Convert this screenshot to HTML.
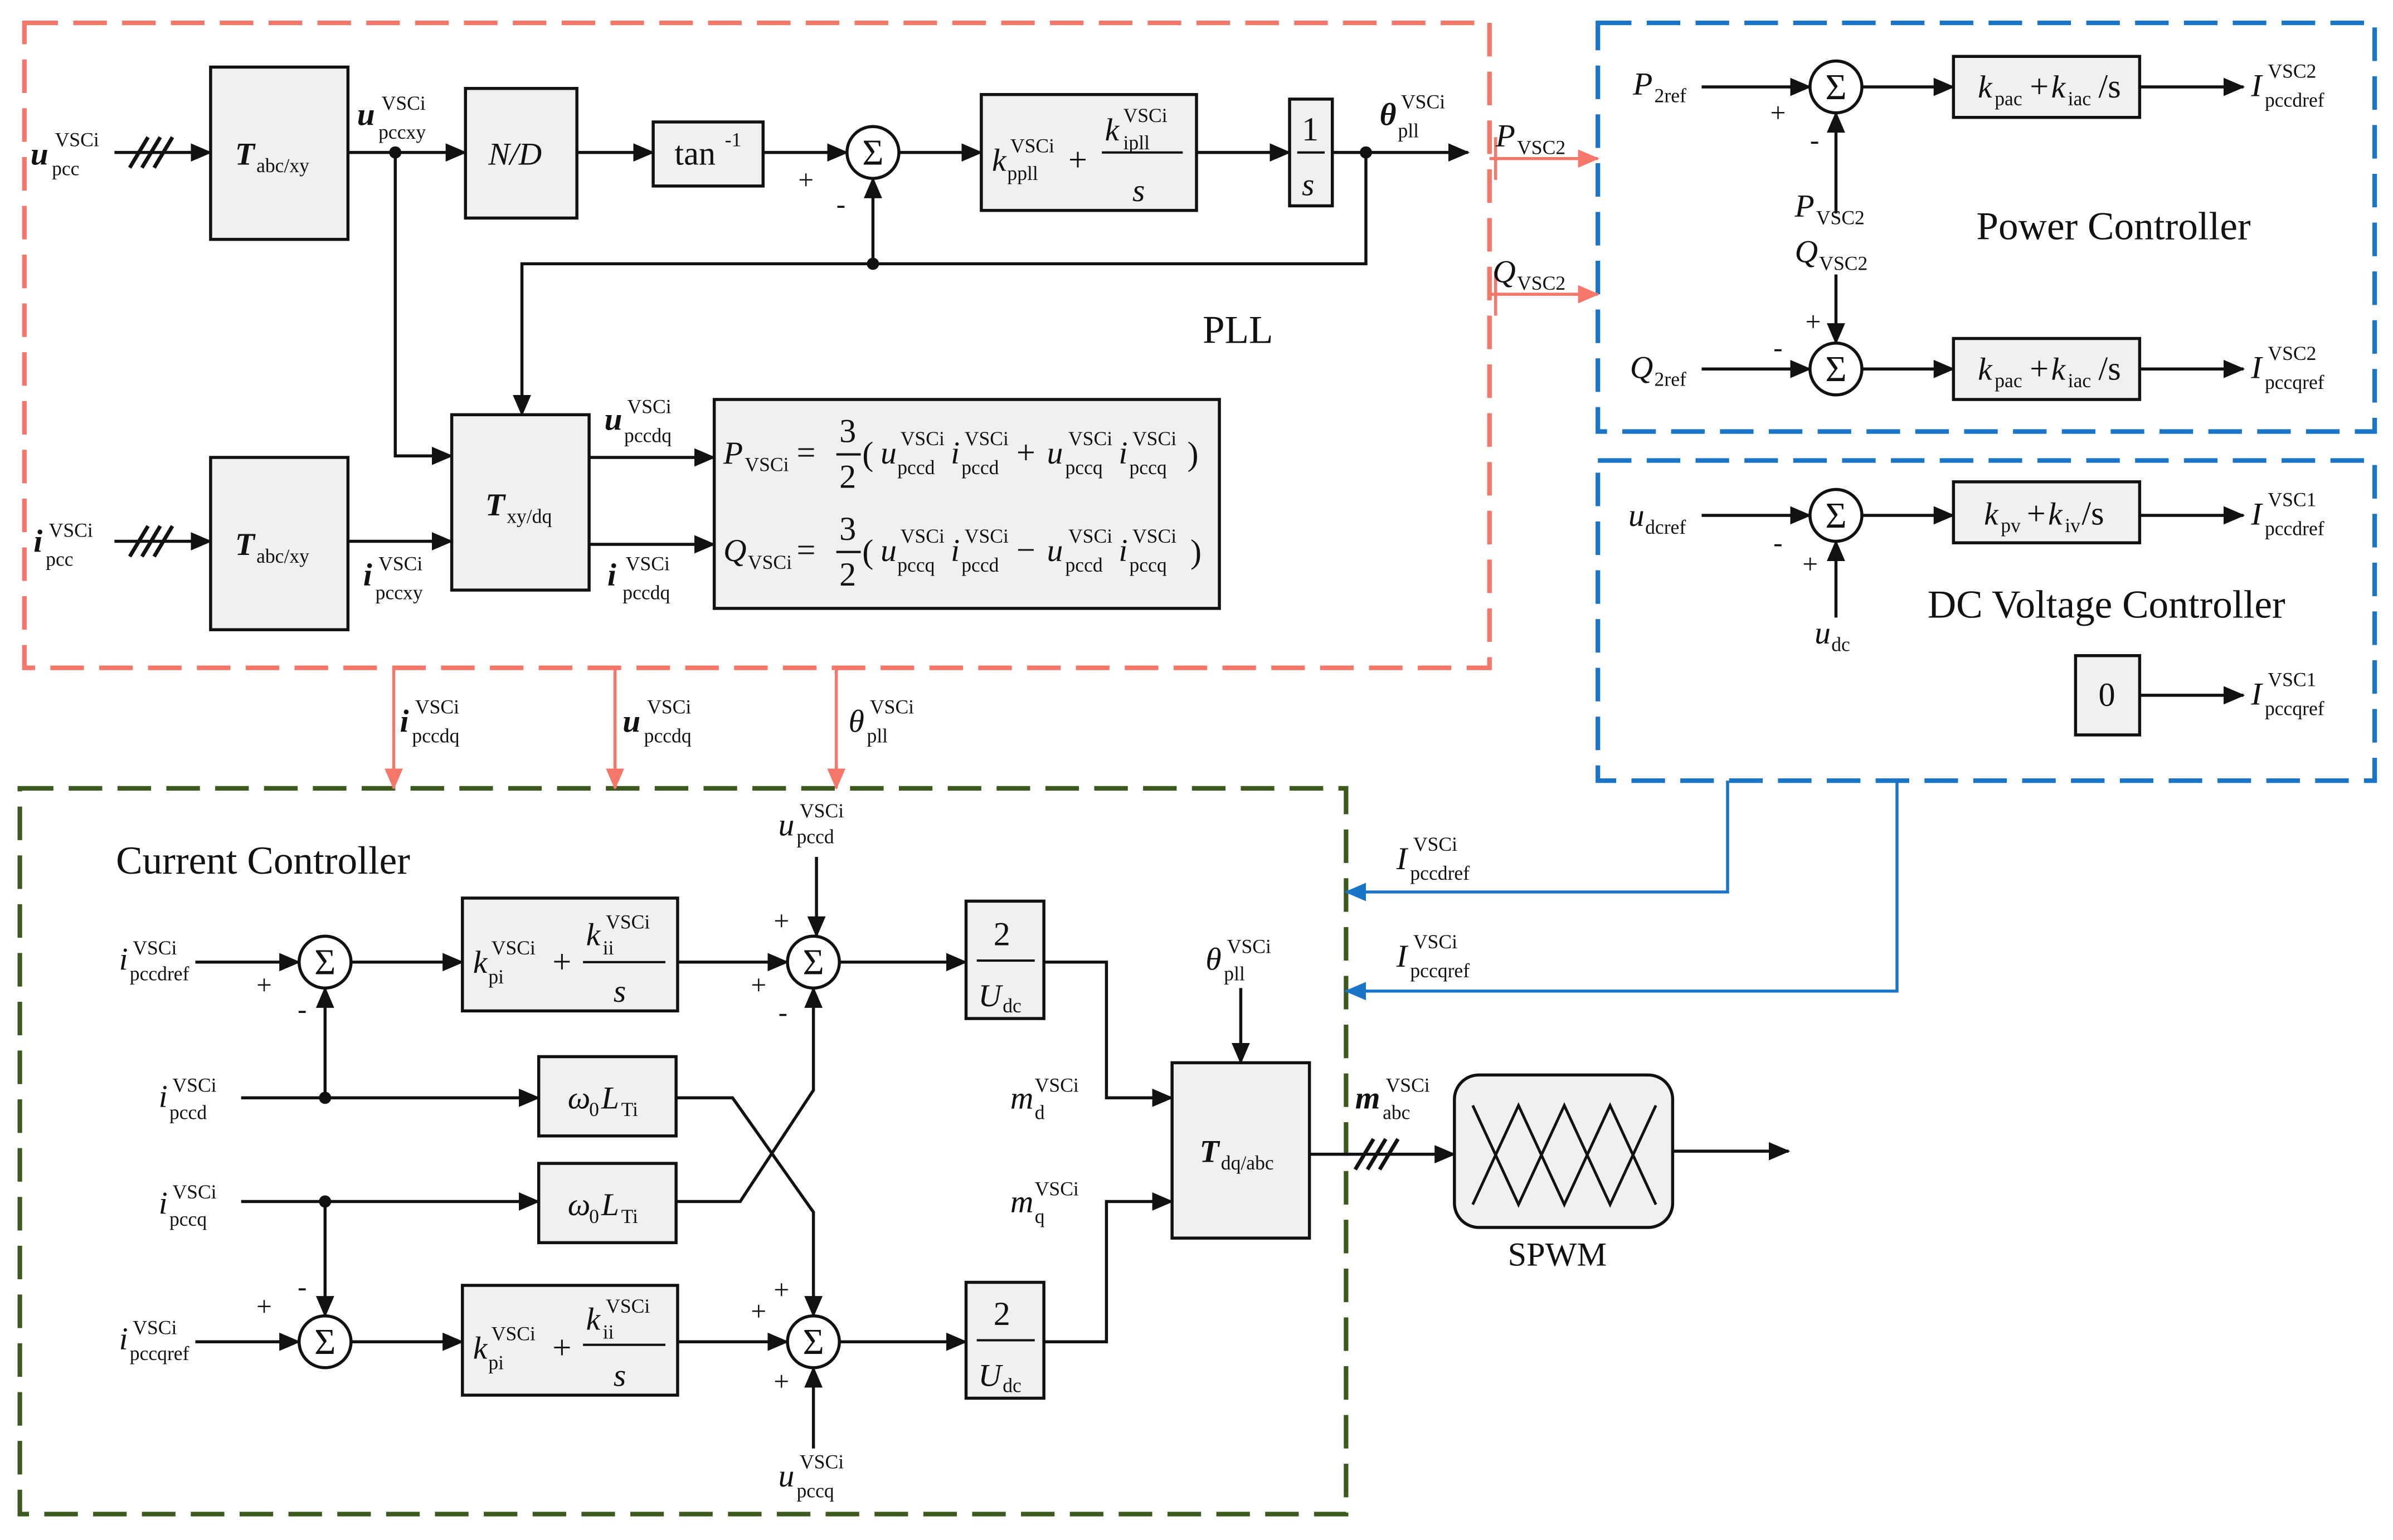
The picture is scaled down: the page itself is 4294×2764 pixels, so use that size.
<!DOCTYPE html>
<html><head><meta charset="utf-8"><style>
html,body{margin:0;padding:0;background:#fff}
svg{display:block}
text{font-family:"Liberation Serif",serif;fill:#111}
.i{font-style:italic;font-size:21px}
.b{font-weight:bold;font-style:italic;font-size:21px}
.s{font-size:13px}
.n{font-size:22px}
.t{font-size:26px}
</style></head><body>
<svg width="4294" height="2764" viewBox="0 0 1568 1010" preserveAspectRatio="none" xmlns="http://www.w3.org/2000/svg">
<defs>
<marker id="a" markerUnits="userSpaceOnUse" markerWidth="14" markerHeight="12" refX="13" refY="6" orient="auto"><path d="M0,0 L14,6 L0,12 z" fill="#111"/></marker>
<marker id="r" markerUnits="userSpaceOnUse" markerWidth="14" markerHeight="12" refX="13" refY="6" orient="auto"><path d="M0,0 L14,6 L0,12 z" fill="#f4776a"/></marker>
<marker id="u" markerUnits="userSpaceOnUse" markerWidth="14" markerHeight="12" refX="13" refY="6" orient="auto"><path d="M0,0 L14,6 L0,12 z" fill="#1a74c8"/></marker>
</defs>
<rect width="1568" height="1010" fill="#fff"/>
<!-- dashed boxes -->
<rect x="16" y="15" width="960" height="423" fill="none" stroke="#f4776a" stroke-width="3" stroke-dasharray="22,10"/>
<rect x="1047" y="15" width="509" height="268" fill="none" stroke="#1a74c8" stroke-width="3" stroke-dasharray="22,10"/>
<rect x="1047" y="302" width="509" height="210" fill="none" stroke="#1a74c8" stroke-width="3" stroke-dasharray="22,10"/>
<rect x="13" y="517" width="869" height="476" fill="none" stroke="#3d5a1e" stroke-width="3" stroke-dasharray="22,10"/>

<g stroke="#111" stroke-width="2" fill="#f0f0f0">
<rect x="138" y="44" width="90" height="113"/>
<rect x="305" y="58" width="73" height="85"/>
<rect x="428" y="80" width="72" height="42"/>
<rect x="643" y="62" width="141" height="76"/>
<rect x="845" y="65" width="28" height="70"/>
<rect x="138" y="300" width="90" height="113"/>
<rect x="296" y="272" width="90" height="115"/>
<rect x="468" y="262" width="331" height="137"/>
<rect x="1280" y="37" width="122" height="40"/>
<rect x="1280" y="222" width="122" height="40"/>
<rect x="1280" y="316" width="122" height="40"/>
<rect x="1360" y="430" width="42" height="52"/>
<rect x="303" y="589" width="141" height="74"/>
<rect x="303" y="843" width="141" height="72"/>
<rect x="353" y="693" width="90" height="52"/>
<rect x="353" y="763" width="90" height="52"/>
<rect x="633" y="591" width="51" height="77"/>
<rect x="633" y="841" width="51" height="76"/>
<rect x="768" y="697" width="90" height="115"/>
<rect x="953" y="705" width="143" height="100" rx="16"/>
</g>
<g stroke="#111" stroke-width="2" fill="#fff">
<circle cx="572" cy="100" r="17"/>
<circle cx="1203" cy="57" r="17"/>
<circle cx="1203" cy="242" r="17"/>
<circle cx="1203" cy="338" r="17"/>
<circle cx="213" cy="631" r="17"/>
<circle cx="533" cy="631" r="17"/>
<circle cx="213" cy="880" r="17"/>
<circle cx="533" cy="880" r="17"/>
</g>
<!-- fraction lines -->
<g stroke="#111" stroke-width="1.5">
<line x1="850" y1="100" x2="868" y2="100"/>
<line x1="722" y1="100" x2="775" y2="100"/>
<line x1="382" y1="631" x2="436" y2="631"/>
<line x1="382" y1="882" x2="436" y2="882"/>
<line x1="640" y1="630" x2="678" y2="630"/>
<line x1="640" y1="879" x2="678" y2="879"/>
<line x1="548" y1="298" x2="564" y2="298"/>
<line x1="548" y1="362" x2="564" y2="362"/>
</g>
<!-- SPWM triangles -->
<path d="M965,790 L995,725 L1025,790 L1055,725 L1085,790 M965,725 L995,790 L1025,725 L1055,790 L1085,725" stroke="#111" stroke-width="1.8" fill="none"/>
<!-- black connectors -->
<g stroke="#111" stroke-width="2" fill="none" marker-end="url(#a)">
<line x1="75" y1="100" x2="138" y2="100"/>
<line x1="228" y1="100" x2="305" y2="100"/>
<line x1="378" y1="100" x2="428" y2="100"/>
<line x1="500" y1="100" x2="555" y2="100"/>
<line x1="589" y1="100" x2="643" y2="100"/>
<line x1="784" y1="100" x2="845" y2="100"/>
<line x1="873" y1="100" x2="962" y2="100"/>
<polyline points="895,100 895,173 342,173 342,272"/>
<line x1="572" y1="173" x2="572" y2="117"/>
<polyline points="259,100 259,299 296,299"/>
<line x1="75" y1="355" x2="138" y2="355"/>
<line x1="228" y1="355" x2="296" y2="355"/>
<line x1="386" y1="300" x2="468" y2="300"/>
<line x1="386" y1="357" x2="468" y2="357"/>
<line x1="1115" y1="57" x2="1186" y2="57"/>
<line x1="1220" y1="57" x2="1280" y2="57"/>
<line x1="1402" y1="57" x2="1470" y2="57"/>
<line x1="1203" y1="140" x2="1203" y2="74"/>
<line x1="1203" y1="180" x2="1203" y2="225"/>
<line x1="1115" y1="242" x2="1186" y2="242"/>
<line x1="1220" y1="242" x2="1280" y2="242"/>
<line x1="1402" y1="242" x2="1470" y2="242"/>
<line x1="1115" y1="338" x2="1186" y2="338"/>
<line x1="1220" y1="338" x2="1280" y2="338"/>
<line x1="1402" y1="338" x2="1470" y2="338"/>
<line x1="1203" y1="405" x2="1203" y2="355"/>
<line x1="1402" y1="456" x2="1470" y2="456"/>
<line x1="128" y1="631" x2="196" y2="631"/>
<line x1="230" y1="631" x2="303" y2="631"/>
<line x1="444" y1="631" x2="516" y2="631"/>
<line x1="550" y1="631" x2="633" y2="631"/>
<line x1="535" y1="562" x2="535" y2="614"/>
<line x1="158" y1="720" x2="353" y2="720"/>
<line x1="213" y1="720" x2="213" y2="648"/>
<polyline points="443,720 480,720 533,795 533,863"/>
<line x1="158" y1="788" x2="353" y2="788"/>
<line x1="213" y1="788" x2="213" y2="863"/>
<polyline points="443,788 485,788 533,715 533,648"/>
<line x1="128" y1="880" x2="196" y2="880"/>
<line x1="230" y1="880" x2="303" y2="880"/>
<line x1="444" y1="880" x2="516" y2="880"/>
<line x1="550" y1="880" x2="633" y2="880"/>
<line x1="533" y1="950" x2="533" y2="897"/>
<polyline points="684,631 725,631 725,720 768,720"/>
<polyline points="684,880 725,880 725,788 768,788"/>
<line x1="813" y1="648" x2="813" y2="697"/>
<line x1="858" y1="757" x2="953" y2="757"/>
<line x1="1096" y1="755" x2="1172" y2="755"/>
</g>
<!-- triple slashes -->
<g stroke="#111" stroke-width="2.5">
<line x1="85" y1="110" x2="97" y2="90"/><line x1="93" y1="110" x2="105" y2="90"/><line x1="101" y1="110" x2="113" y2="90"/>
<line x1="85" y1="365" x2="97" y2="345"/><line x1="93" y1="365" x2="105" y2="345"/><line x1="101" y1="365" x2="113" y2="345"/>
<line x1="888" y1="767" x2="900" y2="747"/><line x1="896" y1="767" x2="908" y2="747"/><line x1="904" y1="767" x2="916" y2="747"/>
</g>
<g fill="#111">
<circle cx="259" cy="100" r="4"/><circle cx="895" cy="100" r="4"/><circle cx="572" cy="173" r="4"/>
<circle cx="213" cy="720" r="4"/><circle cx="213" cy="788" r="4"/>
</g>
<!-- red arrows -->
<g stroke="#f4776a" stroke-width="2" marker-end="url(#r)">
<line x1="258" y1="438" x2="258" y2="517"/>
<line x1="403" y1="438" x2="403" y2="517"/>
<line x1="548" y1="438" x2="548" y2="517"/>
<line x1="976" y1="104" x2="1047" y2="104"/>
<line x1="976" y1="193" x2="1047" y2="193"/>
</g>
<line x1="980" y1="90" x2="980" y2="118" stroke="#f4776a" stroke-width="2"/>
<line x1="980" y1="178" x2="980" y2="207" stroke="#f4776a" stroke-width="2"/>
<!-- blue -->
<g stroke="#1a74c8" stroke-width="2" fill="none" marker-end="url(#u)">
<polyline points="1132,512 1132,585 882,585"/>
<polyline points="1243,512 1243,650 882,650"/>
</g>

<!-- Sigma glyphs -->
<g font-size="24" text-anchor="middle">
<text x="572" y="108">Σ</text><text x="1203" y="65">Σ</text><text x="1203" y="250">Σ</text><text x="1203" y="346">Σ</text>
<text x="213" y="639">Σ</text><text x="533" y="639">Σ</text><text x="213" y="888">Σ</text><text x="533" y="888">Σ</text>
</g>
<!-- signs -->
<g font-size="18">
<text x="523" y="124">+</text><text x="548" y="140">-</text>
<text x="1160" y="80">+</text><text x="1186" y="98">-</text>
<text x="1162" y="234">-</text><text x="1183" y="217">+</text>
<text x="1162" y="362">-</text><text x="1181" y="376">+</text>
<text x="168" y="652">+</text><text x="195" y="668">-</text>
<text x="507" y="610">+</text><text x="492" y="652">+</text><text x="510" y="670">-</text>
<text x="168" y="863">+</text><text x="195" y="850">-</text>
<text x="492" y="866">+</text><text x="507" y="852">+</text><text x="507" y="912">+</text>
</g>

<!-- PLL labels -->
<text x="20" y="108" class="b">u</text><text x="36" y="96" class="s">VSCi</text><text x="34" y="115" class="s">pcc</text>
<text x="154" y="108" class="b">T</text><text x="168" y="113" class="s" font-size="15">abc/xy</text>
<text x="234" y="82" class="b">u</text><text x="250" y="72" class="s">VSCi</text><text x="248" y="91" class="s">pccxy</text>
<text x="320" y="108" class="i">N/D</text>
<text x="442" y="108" class="n">tan</text><text x="475" y="96" class="s">-1</text>
<text x="650" y="112" class="i">k</text><text x="662" y="100" class="s">VSCi</text><text x="660" y="118" class="s">ppll</text>
<text x="700" y="112" class="n">+</text>
<text x="724" y="92" class="i">k</text><text x="736" y="80" class="s">VSCi</text><text x="736" y="98" class="s">ipll</text>
<text x="742" y="132" class="i">s</text>
<text x="853" y="92" class="n">1</text><text x="853" y="128" class="i">s</text>
<text x="904" y="82" class="i" font-weight="bold">θ</text><text x="918" y="71" class="s">VSCi</text><text x="916" y="90" class="s">pll</text>
<text x="980" y="96" class="i">P</text><text x="994" y="101" class="s" font-size="15">VSC2</text>
<text x="978" y="185" class="i">Q</text><text x="994" y="190" class="s" font-size="15">VSC2</text>
<text x="788" y="225" class="t" font-size="24">PLL</text>
<text x="22" y="362" class="b">i</text><text x="32" y="352" class="s">VSCi</text><text x="30" y="371" class="s">pcc</text>
<text x="154" y="364" class="b">T</text><text x="168" y="369" class="s" font-size="15">abc/xy</text>
<text x="238" y="384" class="b">i</text><text x="248" y="374" class="s">VSCi</text><text x="246" y="393" class="s">pccxy</text>
<text x="318" y="338" class="b">T</text><text x="332" y="343" class="s" font-size="15">xy/dq</text>
<text x="396" y="282" class="b">u</text><text x="411" y="271" class="s">VSCi</text><text x="409" y="290" class="s">pccdq</text>
<text x="398" y="384" class="b">i</text><text x="410" y="374" class="s">VSCi</text><text x="408" y="393" class="s">pccdq</text>
<!-- equations -->
<text x="474" y="304" class="i">P</text><text x="488" y="309" class="s">VSCi</text><text x="522" y="304" class="n">=</text>
<text x="550" y="290" class="n" font-size="19">3</text><text x="550" y="320" class="n" font-size="19">2</text>
<text x="565" y="305" class="n" font-size="28">(</text>
<text x="577" y="304" class="i">u</text><text x="590" y="292" class="s">VSCi</text><text x="588" y="311" class="s">pccd</text>
<text x="623" y="304" class="i">i</text><text x="632" y="292" class="s">VSCi</text><text x="630" y="311" class="s">pccd</text>
<text x="666" y="304" class="n">+</text>
<text x="686" y="304" class="i">u</text><text x="700" y="292" class="s">VSCi</text><text x="698" y="311" class="s">pccq</text>
<text x="733" y="304" class="i">i</text><text x="742" y="292" class="s">VSCi</text><text x="740" y="311" class="s">pccq</text>
<text x="778" y="305" class="n" font-size="28">)</text>
<text x="474" y="368" class="i">Q</text><text x="490" y="373" class="s">VSCi</text><text x="522" y="368" class="n">=</text>
<text x="550" y="354" class="n" font-size="19">3</text><text x="550" y="384" class="n" font-size="19">2</text>
<text x="565" y="369" class="n" font-size="28">(</text>
<text x="577" y="368" class="i">u</text><text x="590" y="356" class="s">VSCi</text><text x="588" y="375" class="s">pccq</text>
<text x="623" y="368" class="i">i</text><text x="632" y="356" class="s">VSCi</text><text x="630" y="375" class="s">pccd</text>
<text x="666" y="368" class="n">−</text>
<text x="686" y="368" class="i">u</text><text x="700" y="356" class="s">VSCi</text><text x="698" y="375" class="s">pccd</text>
<text x="733" y="368" class="i">i</text><text x="742" y="356" class="s">VSCi</text><text x="740" y="375" class="s">pccq</text>
<text x="780" y="369" class="n" font-size="28">)</text>
<!-- down-arrow labels -->
<text x="262" y="480" class="b">i</text><text x="272" y="468" class="s">VSCi</text><text x="270" y="487" class="s">pccdq</text>
<text x="408" y="480" class="b">u</text><text x="424" y="468" class="s">VSCi</text><text x="422" y="487" class="s">pccdq</text>
<text x="556" y="480" class="i">θ</text><text x="570" y="468" class="s">VSCi</text><text x="568" y="487" class="s">pll</text>

<!-- Power controller -->
<text x="1070" y="62" class="i">P</text><text x="1084" y="67" class="s" font-size="15">2ref</text>
<text x="1296" y="64" class="i">k</text><text x="1307" y="69" class="s" font-size="15">pac</text><text x="1330" y="64" class="n">+</text><text x="1344" y="64" class="i">k</text><text x="1355" y="69" class="s" font-size="15">iac</text><text x="1375" y="64" class="n">/s</text>
<text x="1475" y="63" class="i">I</text><text x="1486" y="51" class="s">VSC2</text><text x="1484" y="70" class="s">pccdref</text>
<text x="1176" y="142" class="i">P</text><text x="1190" y="147" class="s" font-size="15">VSC2</text>
<text x="1176" y="172" class="i">Q</text><text x="1192" y="177" class="s" font-size="15">VSC2</text>
<text x="1295" y="157" class="t">Power Controller</text>
<text x="1068" y="248" class="i">Q</text><text x="1084" y="253" class="s" font-size="15">2ref</text>
<text x="1296" y="249" class="i">k</text><text x="1307" y="254" class="s" font-size="15">pac</text><text x="1330" y="249" class="n">+</text><text x="1344" y="249" class="i">k</text><text x="1355" y="254" class="s" font-size="15">iac</text><text x="1375" y="249" class="n">/s</text>
<text x="1475" y="248" class="i">I</text><text x="1486" y="236" class="s">VSC2</text><text x="1484" y="255" class="s">pccqref</text>
<!-- DC -->
<text x="1067" y="345" class="i">u</text><text x="1078" y="350" class="s" font-size="15">dcref</text>
<text x="1300" y="344" class="i">k</text><text x="1311" y="349" class="s" font-size="15">pv</text><text x="1328" y="344" class="n">+</text><text x="1342" y="344" class="i">k</text><text x="1353" y="349" class="s" font-size="15">iv</text><text x="1364" y="344" class="n">/s</text>
<text x="1475" y="344" class="i">I</text><text x="1486" y="332" class="s">VSC1</text><text x="1484" y="351" class="s">pccdref</text>
<text x="1189" y="422" class="i">u</text><text x="1200" y="427" class="s" font-size="15">dc</text>
<text x="1263" y="405" class="t">DC Voltage Controller</text>
<text x="1375" y="463" class="n">0</text>
<text x="1475" y="462" class="i">I</text><text x="1486" y="450" class="s">VSC1</text><text x="1484" y="469" class="s">pccqref</text>
<text x="915" y="570" class="i">I</text><text x="926" y="558" class="s">VSCi</text><text x="924" y="577" class="s">pccdref</text>
<text x="915" y="634" class="i">I</text><text x="926" y="622" class="s">VSCi</text><text x="924" y="641" class="s">pccqref</text>

<!-- Current controller -->
<text x="76" y="573" class="t">Current Controller</text>
<text x="510" y="548" class="i">u</text><text x="524" y="536" class="s">VSCi</text><text x="522" y="553" class="s">pccd</text>
<text x="78" y="636" class="i">i</text><text x="87" y="626" class="s">VSCi</text><text x="85" y="643" class="s">pccdref</text>
<text x="310" y="638" class="i">k</text><text x="322" y="626" class="s">VSCi</text><text x="320" y="645" class="s">pi</text>
<text x="362" y="638" class="n">+</text>
<text x="384" y="620" class="i">k</text><text x="397" y="609" class="s">VSCi</text><text x="395" y="626" class="s">ii</text>
<text x="402" y="657" class="i">s</text>
<text x="651" y="620" class="n">2</text><text x="641" y="660" class="i">U</text><text x="657" y="664" class="s">dc</text>
<text x="104" y="726" class="i">i</text><text x="113" y="716" class="s">VSCi</text><text x="111" y="734" class="s">pccd</text>
<text x="372" y="727" class="i">ω</text><text x="386" y="732" class="s">0</text><text x="394" y="727" class="i">L</text><text x="407" y="732" class="s" font-size="15">Ti</text>
<text x="104" y="796" class="i">i</text><text x="113" y="786" class="s">VSCi</text><text x="111" y="804" class="s">pccq</text>
<text x="372" y="797" class="i">ω</text><text x="386" y="802" class="s">0</text><text x="394" y="797" class="i">L</text><text x="407" y="802" class="s" font-size="15">Ti</text>
<text x="78" y="885" class="i">i</text><text x="87" y="875" class="s">VSCi</text><text x="85" y="892" class="s">pccqref</text>
<text x="310" y="891" class="i">k</text><text x="322" y="879" class="s">VSCi</text><text x="320" y="898" class="s">pi</text>
<text x="362" y="891" class="n">+</text>
<text x="384" y="872" class="i">k</text><text x="397" y="861" class="s">VSCi</text><text x="395" y="878" class="s">ii</text>
<text x="402" y="909" class="i">s</text>
<text x="651" y="869" class="n">2</text><text x="641" y="909" class="i">U</text><text x="657" y="913" class="s">dc</text>
<text x="510" y="975" class="i">u</text><text x="524" y="963" class="s">VSCi</text><text x="522" y="982" class="s">pccq</text>
<text x="790" y="636" class="i">θ</text><text x="804" y="625" class="s">VSCi</text><text x="802" y="643" class="s">pll</text>
<text x="662" y="727" class="i">m</text><text x="678" y="716" class="s">VSCi</text><text x="678" y="734" class="s">d</text>
<text x="662" y="795" class="i">m</text><text x="678" y="784" class="s">VSCi</text><text x="678" y="802" class="s">q</text>
<text x="786" y="762" class="b">T</text><text x="800" y="767" class="s" font-size="15">dq/abc</text>
<text x="888" y="727" class="b">m</text><text x="908" y="716" class="s">VSCi</text><text x="906" y="734" class="s">abc</text>
<text x="988" y="830" class="n">SPWM</text>
</svg>
</body></html>
